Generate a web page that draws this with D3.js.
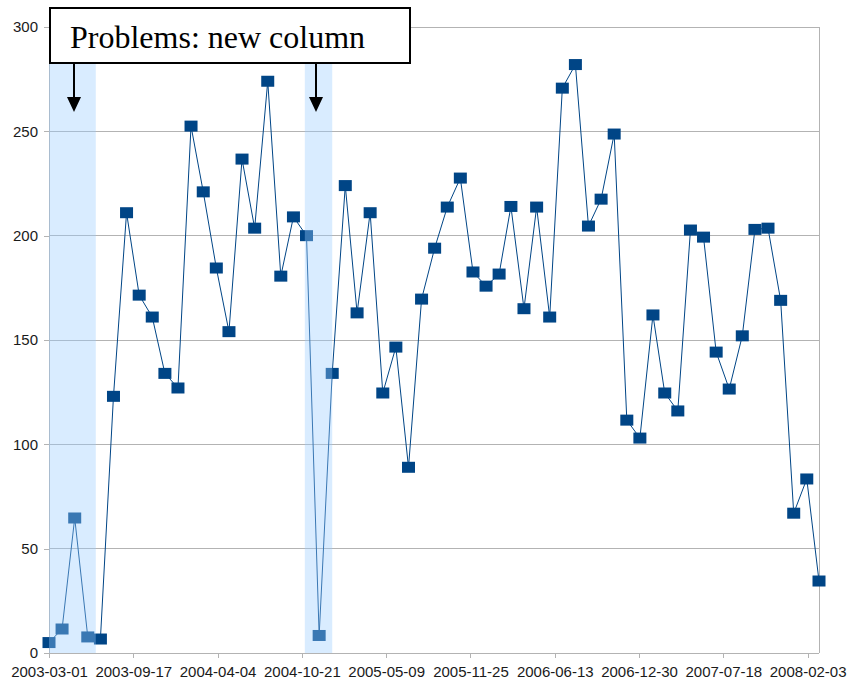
<!DOCTYPE html>
<html>
<head>
<meta charset="utf-8">
<script src="https://cdn.jsdelivr.net/npm/d3@7"></script>
<style>
html,body{margin:0;padding:0;background:#fff;}
svg{display:block;}
</style>
</head>
<body>
<svg id="chart" width="850" height="681"></svg>
<script>
// ---- data ----
const startMonth = "2003-03-01";
const values = [5, 11.5, 64.7, 7.7, 6.7, 123, 211, 171.5, 161, 134, 127, 252.5,
  221, 184.5, 154, 236.7, 203.6, 274, 180.6, 209, 200, 8.4, 134, 224,
  163, 211, 124.6, 146.6, 89, 169.6, 194, 213.7, 227.6, 182.6, 175.8, 181.6,
  214, 165, 213.7, 161, 270.7, 282, 204.6, 217.5, 248.7, 111.6, 103, 162,
  124.6, 116, 202.7, 199.3, 144.2, 126.5, 152, 203, 203.6, 169, 67, 83.4, 34.5];
const xTickLabels = ["2003-03-01","2003-09-17","2004-04-04","2004-10-21","2005-05-09",
  "2005-11-25","2006-06-13","2006-12-30","2007-07-18","2008-02-03"];
const yTicks = [0, 50, 100, 150, 200, 250, 300];
const problemBands = [["2003-03-01","2003-06-20"],["2004-10-28","2005-01-01"]];
const annotationText = "Problems: new column";

// ---- layout ----
const W = 850, H = 681;
const margin = {left: 49, right: 31, top: 27, bottom: 28};
const parse = d3.utcParse("%Y-%m-%d");
const fmt = d3.utcFormat("%Y-%m-%d");
const start = parse(startMonth);
const data = values.map((v, i) => ({date: d3.utcMonth.offset(start, i), value: v}));

const x = d3.scaleUtc()
  .domain([start, d3.utcMonth.offset(start, values.length - 1)])
  .range([margin.left, W - margin.right]);
const y = d3.scaleLinear().domain([0, 300]).range([H - margin.bottom, margin.top]);

const svg = d3.select("#chart");
const grid = "#b3b3b3";

// gridlines
svg.append("g").selectAll("line").data(yTicks.filter(t => t > 0)).join("line")
  .attr("x1", margin.left).attr("x2", W - margin.right)
  .attr("y1", d => y(d)).attr("y2", d => y(d))
  .attr("stroke", grid).attr("stroke-width", 1).attr("shape-rendering", "crispEdges");
// right border
svg.append("line").attr("x1", W - margin.right).attr("x2", W - margin.right)
  .attr("y1", y(300)).attr("y2", y(0)).attr("stroke", grid).attr("shape-rendering", "crispEdges");

// y axis
const yAxis = svg.append("g").attr("transform", `translate(${margin.left},0)`)
  .call(d3.axisLeft(y).tickValues(yTicks).tickSize(5).tickPadding(6));
// x axis
const xAxis = svg.append("g").attr("transform", `translate(0,${H - margin.bottom})`)
  .call(d3.axisBottom(x).tickValues(xTickLabels.map(parse)).tickFormat(fmt).tickSize(5).tickPadding(8));
[yAxis, xAxis].forEach(g => {
  g.selectAll("path,line").attr("stroke", grid).attr("shape-rendering", "crispEdges");
  g.selectAll("text").attr("fill", "#1a1a1a")
    .style("font-family", "'Liberation Sans', Arial, sans-serif").style("font-size", "15px");
});
yAxis.select(".domain").remove();
yAxis.append("line").attr("x1", 0).attr("x2", 0).attr("y1", y(0)).attr("y2", y(300))
  .attr("stroke", grid).attr("shape-rendering", "crispEdges");
xAxis.select(".domain").remove();
xAxis.append("line").attr("x1", margin.left).attr("x2", W - margin.right)
  .attr("stroke", grid).attr("shape-rendering", "crispEdges");

// series
const col = "#004586";
svg.append("path").datum(data)
  .attr("d", d3.line().x(d => x(d.date)).y(d => y(d.value)))
  .attr("fill", "none").attr("stroke", col).attr("stroke-width", 1);
svg.append("g").selectAll("rect").data(data).join("rect")
  .attr("x", d => x(d.date) - 6.5).attr("y", d => y(d.value) - 5.5)
  .attr("width", 13).attr("height", 11).attr("fill", col);

// problem bands (translucent overlay)
svg.append("g").selectAll("rect").data(problemBands).join("rect")
  .attr("x", d => x(parse(d[0])))
  .attr("width", d => x(parse(d[1])) - x(parse(d[0])))
  .attr("y", y(300)).attr("height", y(0) - y(300))
  .attr("fill", "rgb(154,205,255)").attr("fill-opacity", 0.376);

// annotation
const ann = svg.append("g");
ann.append("rect").attr("x", 50).attr("y", 8).attr("width", 360).attr("height", 55)
  .attr("fill", "#fff").attr("stroke", "#000").attr("stroke-width", 2);
ann.append("text").attr("x", 70).attr("y", 48).text(annotationText)
  .style("font-family", "'Liberation Serif', 'Times New Roman', serif")
  .style("font-size", "32px").attr("fill", "#000");
[74, 316].forEach(ax => {
  ann.append("line").attr("x1", ax).attr("x2", ax).attr("y1", 64).attr("y2", 100)
    .attr("stroke", "#000").attr("stroke-width", 2);
  ann.append("path").attr("d", `M${ax - 7},97 L${ax + 7},97 L${ax},112 Z`).attr("fill", "#000");
});
</script>
</body>
</html>
